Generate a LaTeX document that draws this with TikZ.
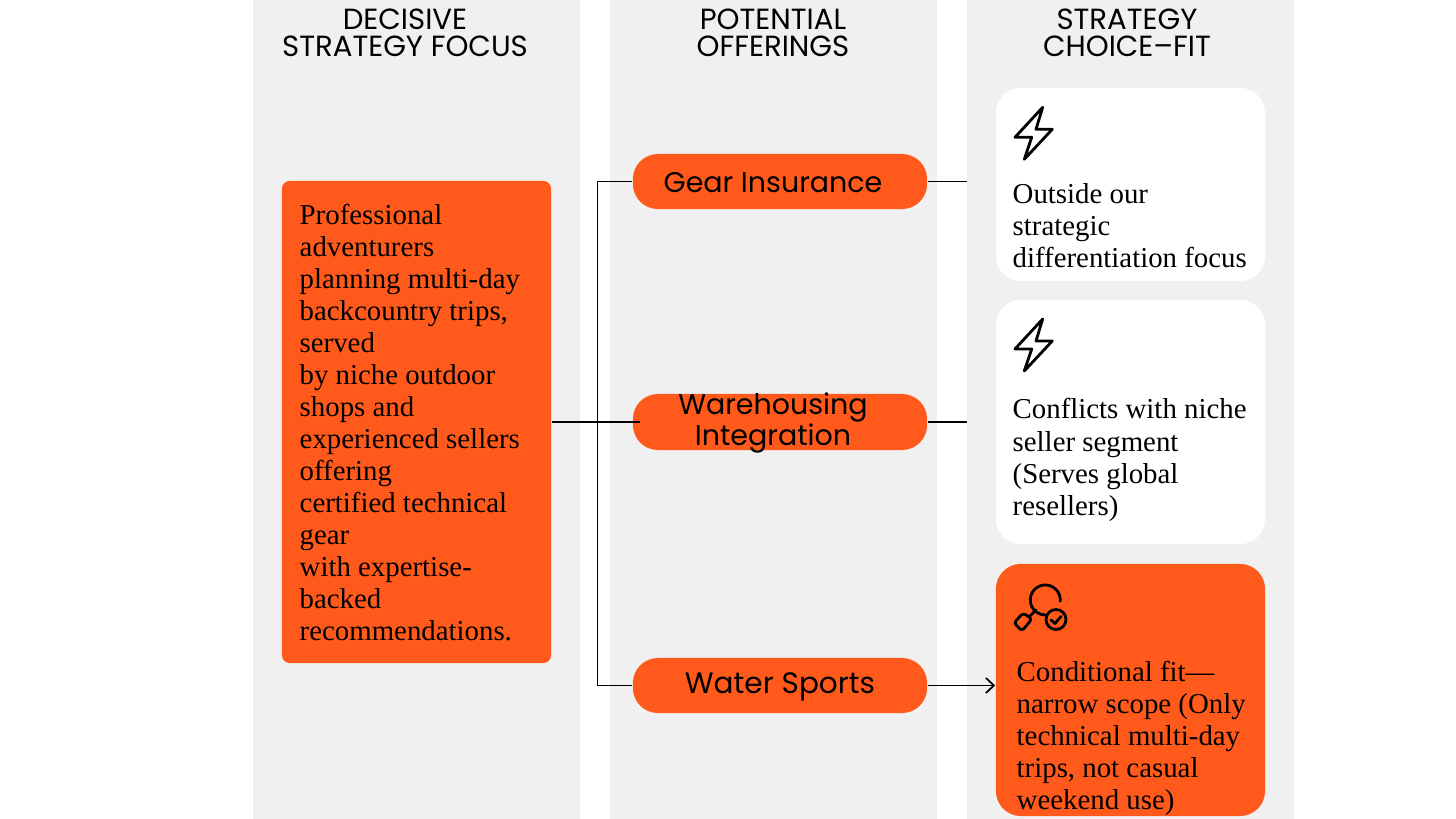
\documentclass[tikz,border=0pt]{standalone}
\usepackage{xcolor}
\usepackage{fontspec}
\usetikzlibrary{arrows.meta}
\setmainfont{Liberation Serif}
\newfontfamily\headfont{Poppins}
\definecolor{panelgray}{HTML}{F0F0F0}
\definecolor{flame}{HTML}{FF5A1C}
\tikzset{
	panel/.style={fill=panelgray,draw=none},
	head/.style={font=\headfont\fontsize{8.3}{7.7}\selectfont,align=center,inner sep=0pt},
	body/.style={font=\fontsize{8.2}{9.1}\selectfont,align=left,inner sep=0pt,anchor=north west},
	pill/.style={fill=flame,draw=none,rounded corners=0.25cm,minimum width=2.94cm,inner sep=0pt},
	pilltext/.style={font=\headfont\fontsize{8.1}{8.55}\selectfont,align=center,inner sep=0pt},
	card/.style={rounded corners=0.25cm,minimum width=2.69cm,inner sep=0pt},
	link/.style={line width=0.5pt,black},
	icon/.style={line width=0.8pt,black,line join=round,line cap=round},
	pics/bolt/.style={code={
		\draw[icon](0,0)--(-27.7,30)--(-11,30)--(-18.4,52)--(9.6,22)--(-6.7,22)--cycle;
	}},
}
\begin{document}
\begin{tikzpicture}[x=0.01cm,y=-0.01cm]
		\useasboundingbox(0,0)rectangle(1456,819);
		% columns
		\fill[panel](253,0)rectangle(580,819);
		\fill[panel](610,0)rectangle(937,819);
		\fill[panel](967,0)rectangle(1294,819);
		\node[head] (headFocus) at (405,33){DECISIVE\\STRATEGY FOCUS};
		\node[head] (headOffer) at (773,33){POTENTIAL\\OFFERINGS};
		\node[head] (headFit) at (1127,33){STRATEGY\\CHOICE–FIT};
		% left box
		\node[fill=flame,rounded corners=0.08cm,minimum width=2.69cm,minimum height=4.82cm,inner sep=0pt] (focus) at (416.5,422){};
		\node[body] (focusText) at (299,203.5){Professional\\adventurers\\planning multi-day\\backcountry trips,\\served\\by niche outdoor\\shops and\\experienced sellers\\offering\\certified technical\\gear\\with expertise-\\backed\\recommendations.};
		% offerings
		\node[pill,minimum height=0.55cm] (gear) at (780,181.5){};
		\node[pill,minimum height=0.56cm] (ware) at (780,422){};
		\node[pill,minimum height=0.55cm] (water) at (780,685.5){};
		\node[pilltext] (gearText) at (773,183){Gear Insurance};
		\coordinate (wareIn) at (640,422);
		\coordinate (trunk) at (597.5,422);
		\coordinate (gearOut) at (967,181.5);
		\coordinate (wareOut) at (967,422);
		% cards
		\node[card,fill=white,minimum height=1.93cm] (cardGear) at (1130.5,184.5){};
		\node[card,fill=white,minimum height=2.44cm] (cardWare) at (1130.5,422){};
		\node[card,fill=flame,minimum height=2.52cm] (cardWater) at (1130.5,690){};
		\coordinate (waterIn) at (cardWater.west |- water.east);
		% connectors
		\draw[link](focus.east)--(wareIn);
		\draw[link](gear.west)-|(trunk)|-(water.west);
		\draw[link](gear.east)--(gearOut);
		\draw[link](ware.east)--(wareOut);
		\draw[link,-{Straight Barb[length=0.08cm,width=0.15cm]}](water.east)--(waterIn);
		\node[pilltext] (wareText) at (773,423){Warehousing\\Integration};
		\node[pilltext,font=\headfont\fontsize{8.4}{8.55}\selectfont] (waterText) at (780,687){Water Sports};
		% card content
		\pic at (1042.7,107.3){bolt};
		\pic at (1042.7,319){bolt};
		\node[body] (cardGearText) at (1012,182.5){Outside our\\strategic\\differentiation focus};
		\node[body] (cardWareText) at (1012,398){Conflicts with niche\\seller segment\\(Serves global\\resellers)};
		\node[body] (cardWaterText) at (1016,660){Conditional fit---\\narrow scope (Only\\technical multi-day\\trips, not casual\\weekend use)};
		% magnifier
		\draw[icon](1060.2,601.3)arc(5:-270:15);
		\draw[icon](1036,610)--(1030,616);
		\draw[icon,rounded corners=0.03cm](1023,613)--(1032,619)--(1022,631)--(1014,623)--cycle;
		\draw[icon](1056,619.5)circle(10);
		\draw[icon](1051,620)--(1055,623.5)--(1061,616.5);
		\end{tikzpicture}
\end{document}
